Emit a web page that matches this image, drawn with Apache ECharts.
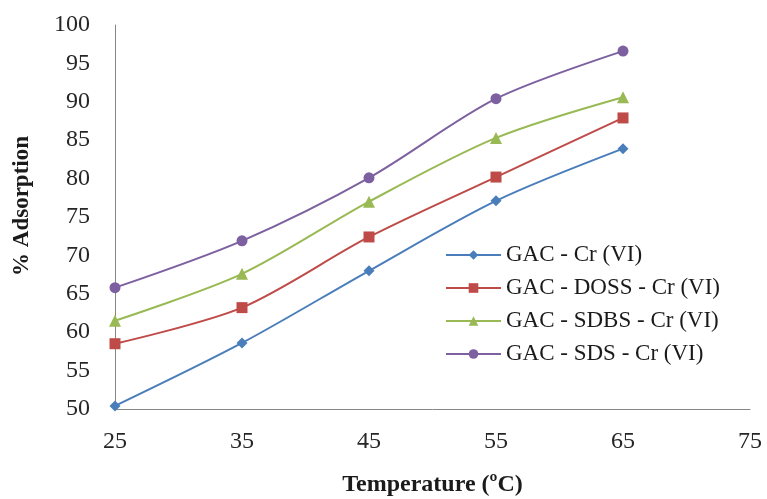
<!DOCTYPE html>
<html><head><meta charset="utf-8">
<script src="https://cdn.jsdelivr.net/npm/echarts@6/dist/echarts.min.js"></script>
<style>html,body{margin:0;padding:0;background:#fff}#c{width:767px;height:499px}</style>
</head><body><div id="c"></div>
<script>
const categories = ['25','35','45','55','65','75'];
const seriesNames = ['GAC - Cr (VI)','GAC - DOSS - Cr (VI)','GAC - SDBS - Cr (VI)','GAC - SDS - Cr (VI)'];
const gacCr = [50.4, 58.6, 68.0, 77.1, 83.9];
const gacDoss = [58.5, 63.2, 72.4, 80.2, 87.9];
const gacSdbs = [61.5, 67.6, 77.0, 85.3, 90.6];
const gacSds = [65.8, 71.9, 80.1, 90.4, 96.6];
const xTitle = 'Temperature (ºC)';
const yTitle = '% Adsorption';

const colors = ['#4a7ebb','#be4b48','#98b954','#7d60a0'];
const symbols = ['diamond','rect','triangle','circle'];
const sizes = [11,11,12,11];
const values = [gacCr, gacDoss, gacSdbs, gacSds];
const serif = '"Liberation Serif", "DejaVu Serif", serif';

const chart = echarts.init(document.getElementById('c'), null, {renderer:'canvas'});
chart.setOption({
  animation:false,
  color: colors,
  grid:{left:115,right:17,top:25,bottom:90,containLabel:false,outerBoundsMode:'none'},
  legend:{
    orient:'vertical', left:440, top:238,
    itemWidth:55, itemHeight:12, itemGap:9,
    textStyle:{fontFamily:serif,fontSize:23,color:'#1a1a1a',lineHeight:24},
    data: seriesNames
  },
  xAxis:{
    type:'category', data:categories, boundaryGap:false,
    axisLine:{lineStyle:{color:'#868686',width:1}},
    axisTick:{show:false},
    axisLabel:{fontFamily:serif,fontSize:24,color:'#262626',margin:21},
    name:xTitle, nameLocation:'middle', nameGap:64,
    nameTextStyle:{fontFamily:serif,fontSize:24,fontWeight:'bold',color:'#1a1a1a'}
  },
  yAxis:{
    type:'value', min:50, max:100, interval:5,
    axisLine:{show:true,lineStyle:{color:'#868686',width:1}},
    axisTick:{show:false},
    splitLine:{show:false},
    axisLabel:{fontFamily:serif,fontSize:24,color:'#262626',margin:25}
  },
  graphic:[{
    type:'text', x:22, y:206, rotation:Math.PI/2,
    style:{text:yTitle, font:'bold 23px "Liberation Serif", serif', fill:'#1a1a1a',
      textAlign:'center', textVerticalAlign:'middle', align:'center', verticalAlign:'middle'}
  }],
  series: seriesNames.map((n,i)=>({
    name:n, type:'line', data:values[i], smooth:0.3,
    symbol:symbols[i], symbolSize:sizes[i],
    lineStyle:{width:2,color:colors[i]},
    itemStyle:{color:colors[i]}
  }))
});
</script></body></html>
